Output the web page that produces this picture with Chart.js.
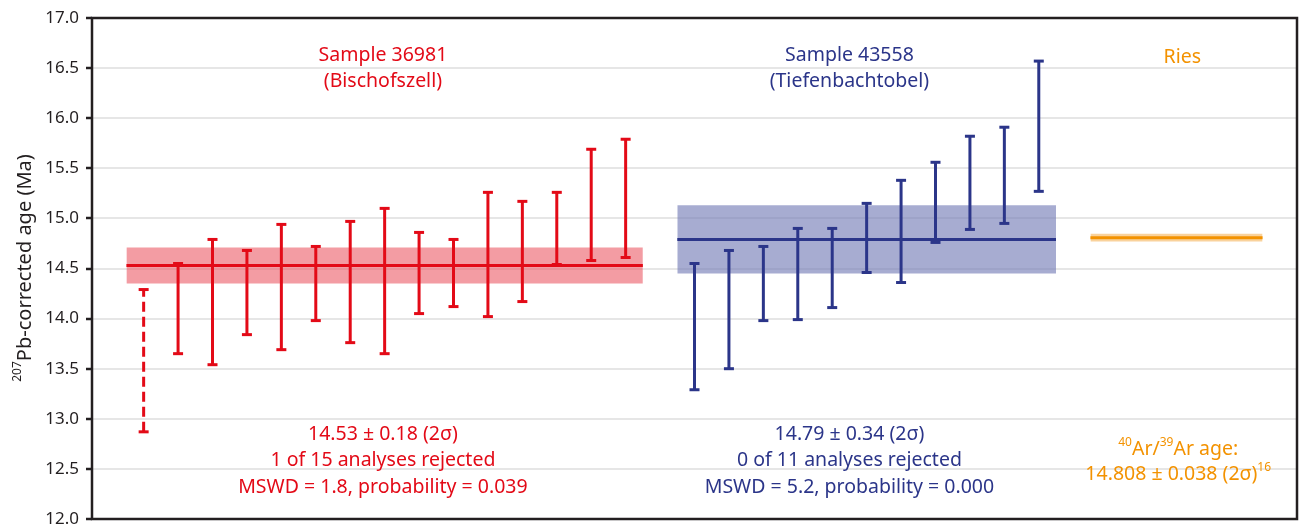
<!DOCTYPE html>
<html>
<head>
<meta charset="utf-8">
<script src="https://cdn.jsdelivr.net/npm/chart.js@4"></script>
<style>
  html, body { margin: 0; padding: 0; background: #fff; }
  #wrap { width: 1300px; height: 526px; }
</style>
</head>
<body>
<div id="wrap"><canvas id="ages" width="1300" height="526"></canvas></div>
<script>
// Sample 36981 (Bischofszell) - 2 sigma error bars, first analysis rejected
const redX = [0, 1, 2, 3, 4, 5, 6, 7, 8, 9, 10, 11, 12, 13, 14];
const redLow = [12.87, 13.65, 13.54, 13.84, 13.69, 13.98, 13.76, 13.65, 14.05, 14.12, 14.02, 14.17, 14.54, 14.58, 14.61];
const redHigh = [14.29, 14.55, 14.79, 14.68, 14.94, 14.72, 14.97, 15.10, 14.86, 14.79, 15.26, 15.17, 15.26, 15.69, 15.79];
const redRejected = [true, false, false, false, false, false, false, false, false, false, false, false, false, false, false];

// Sample 43558 (Tiefenbachtobel)
const blueX = [16, 17, 18, 19, 20, 21, 22, 23, 24, 25, 26];
const blueLow = [13.29, 13.50, 13.98, 13.99, 14.11, 14.46, 14.36, 14.76, 14.89, 14.95, 15.27];
const blueHigh = [14.55, 14.68, 14.72, 14.90, 14.90, 15.15, 15.38, 15.56, 15.82, 15.91, 16.57];

// weighted mean ages: [mean, 2 sigma, x from, x to]
const redMean = [14.53, 0.18, -0.5, 14.5];
const blueMean = [14.79, 0.34, 15.5, 26.5];
const riesMean = [14.808, 0.038, 27.5, 32.5];

const yTicks = [12.0, 12.5, 13.0, 13.5, 14.0, 14.5, 15.0, 15.5, 16.0, 16.5, 17.0];

const RED = '#e30a17';
const RED_BAND = 'rgba(235, 90, 102, 0.6)';
const BLUE = '#2b3589';
const BLUE_BAND = 'rgba(120, 128, 185, 0.65)';
const ORANGE = '#f39200';
const ORANGE_BAND = 'rgba(245, 180, 90, 0.6)';
const INK = '#231f20';
const FONT = '"Noto Sans", sans-serif';

function errorBar(x, lo, hi, color, dashed) {
    return {
        type: 'line',
        data: [{ x: x, y: lo }, { x: x, y: hi }],
        borderColor: color,
        borderWidth: 3,
        borderDash: dashed ? [10, 5] : [],
        pointStyle: 'line',
        pointRadius: 5,
        pointBorderWidth: 3,
        pointBorderColor: color,
        order: 1
    };
}

function meanBand(m, color, bandColor) {
    const [mean, err, x0, x1] = m;
    return [
        {
            type: 'line',
            data: [{ x: x0, y: mean + err }, { x: x1, y: mean + err }],
            borderWidth: 0, pointRadius: 0, fill: false, order: 3
        },
        {
            type: 'line',
            data: [{ x: x0, y: mean - err }, { x: x1, y: mean - err }],
            borderWidth: 0, pointRadius: 0, fill: '-1', backgroundColor: bandColor, order: 3
        },
        {
            type: 'line',
            data: [{ x: x0, y: mean }, { x: x1, y: mean }],
            borderColor: color, borderWidth: 3, pointRadius: 0, order: 2
        }
    ];
}

const datasets = [
    ...meanBand(redMean, RED, RED_BAND),
    ...meanBand(blueMean, BLUE, BLUE_BAND),
    ...meanBand(riesMean, ORANGE, ORANGE_BAND),
    ...redX.map((x, i) => errorBar(x, redLow[i], redHigh[i], RED, redRejected[i])),
    ...blueX.map((x, i) => errorBar(x, blueLow[i], blueHigh[i], BLUE, false))
];

// draws a line of text with superscript pieces, centred on cx
function richText(ctx, parts, cx, cy, size, color) {
    const supSize = Math.round(size * 0.6);
    let total = 0;
    parts.forEach(p => {
        ctx.font = (p.sup ? supSize : size) + 'px ' + FONT;
        p.w = ctx.measureText(p.t).width;
        total += p.w;
    });
    let x = cx - total / 2;
    ctx.fillStyle = color;
    ctx.textAlign = 'left';
    ctx.textBaseline = 'middle';
    parts.forEach(p => {
        ctx.font = (p.sup ? supSize : size) + 'px ' + FONT;
        ctx.fillText(p.t, x, p.sup ? cy - size * 0.35 : cy);
        x += p.w;
    });
}

const annotations = {
    id: 'annotations',
    afterDraw(chart) {
        const ctx = chart.ctx;
        const { left, top, right, bottom } = chart.chartArea;
        const xs = chart.scales.x;
        ctx.save();

        // frame
        ctx.strokeStyle = INK;
        ctx.lineWidth = 2.5;
        ctx.strokeRect(left, top, right - left, bottom - top);

        const size = 19.5;
        const t = (txt) => [{ t: txt }];
        const redC = xs.getPixelForValue(6.95);
        const blueC = xs.getPixelForValue(20.5);
        const riesC = xs.getPixelForValue(30.17);

        richText(ctx, t('Sample 36981'), redC, 55, size, RED);
        richText(ctx, t('(Bischofszell)'), redC, 81, size, RED);
        richText(ctx, t('Sample 43558'), blueC, 55, size, BLUE);
        richText(ctx, t('(Tiefenbachtobel)'), blueC, 81, size, BLUE);
        richText(ctx, t('Ries'), riesC, 57, size, ORANGE);

        richText(ctx, t('14.53 ± 0.18 (2σ)'), redC, 434, size, RED);
        richText(ctx, t('1 of 15 analyses rejected'), redC, 460, size, RED);
        richText(ctx, t('MSWD = 1.8, probability = 0.039'), redC, 487, size, RED);

        richText(ctx, t('14.79 ± 0.34 (2σ)'), blueC, 434, size, BLUE);
        richText(ctx, t('0 of 11 analyses rejected'), blueC, 460, size, BLUE);
        richText(ctx, t('MSWD = 5.2, probability = 0.000'), blueC, 487, size, BLUE);

        richText(ctx, [{ t: '40', sup: true }, { t: 'Ar/' }, { t: '39', sup: true }, { t: 'Ar age:' }],
            xs.getPixelForValue(30.05), 449, size, ORANGE);
        richText(ctx, [{ t: '14.808 ± 0.038 (2σ)' }, { t: '16', sup: true }],
            xs.getPixelForValue(30.05), 474, size, ORANGE);

        // y axis title
        ctx.translate(25, 268);
        ctx.rotate(-Math.PI / 2);
        richText(ctx, [{ t: '207', sup: true }, { t: 'Pb-corrected age (Ma)' }], 0, 0, 20, INK);
        ctx.restore();
    }
};

document.addEventListener('DOMContentLoaded', function() {
    const ctx = document.getElementById('ages').getContext('2d');
    new Chart(ctx, {
        type: 'line',
        data: { datasets: datasets },
        options: {
            responsive: false,
            animation: false,
            layout: { autoPadding: false, padding: { left: 0, top: 18, right: 3, bottom: 7 } },
            plugins: { legend: { display: false }, tooltip: { enabled: false } },
            scales: {
                x: {
                    type: 'linear',
                    display: false,
                    min: -1.5,
                    max: 33.5
                },
                y: {
                    min: 12,
                    max: 17,
                    afterBuildTicks(scale) {
                        scale.ticks = yTicks.map(v => ({ value: v }));
                    },
                    afterFit(scale) {
                        scale.width = 92;
                        scale.paddingTop = 0;
                        scale.paddingBottom = 0;
                    },
                    ticks: {
                        color: INK,
                        font: { family: FONT, size: 17 },
                        padding: 7,
                        callback: v => Number(v).toFixed(1)
                    },
                    grid: {
                        color: '#e6e6e6',
                        lineWidth: 2,
                        tickColor: INK,
                        tickWidth: 2.5,
                        tickLength: 6
                    },
                    border: { display: false }
                }
            }
        },
        plugins: [annotations]
    });
});
</script>
</body>
</html>
